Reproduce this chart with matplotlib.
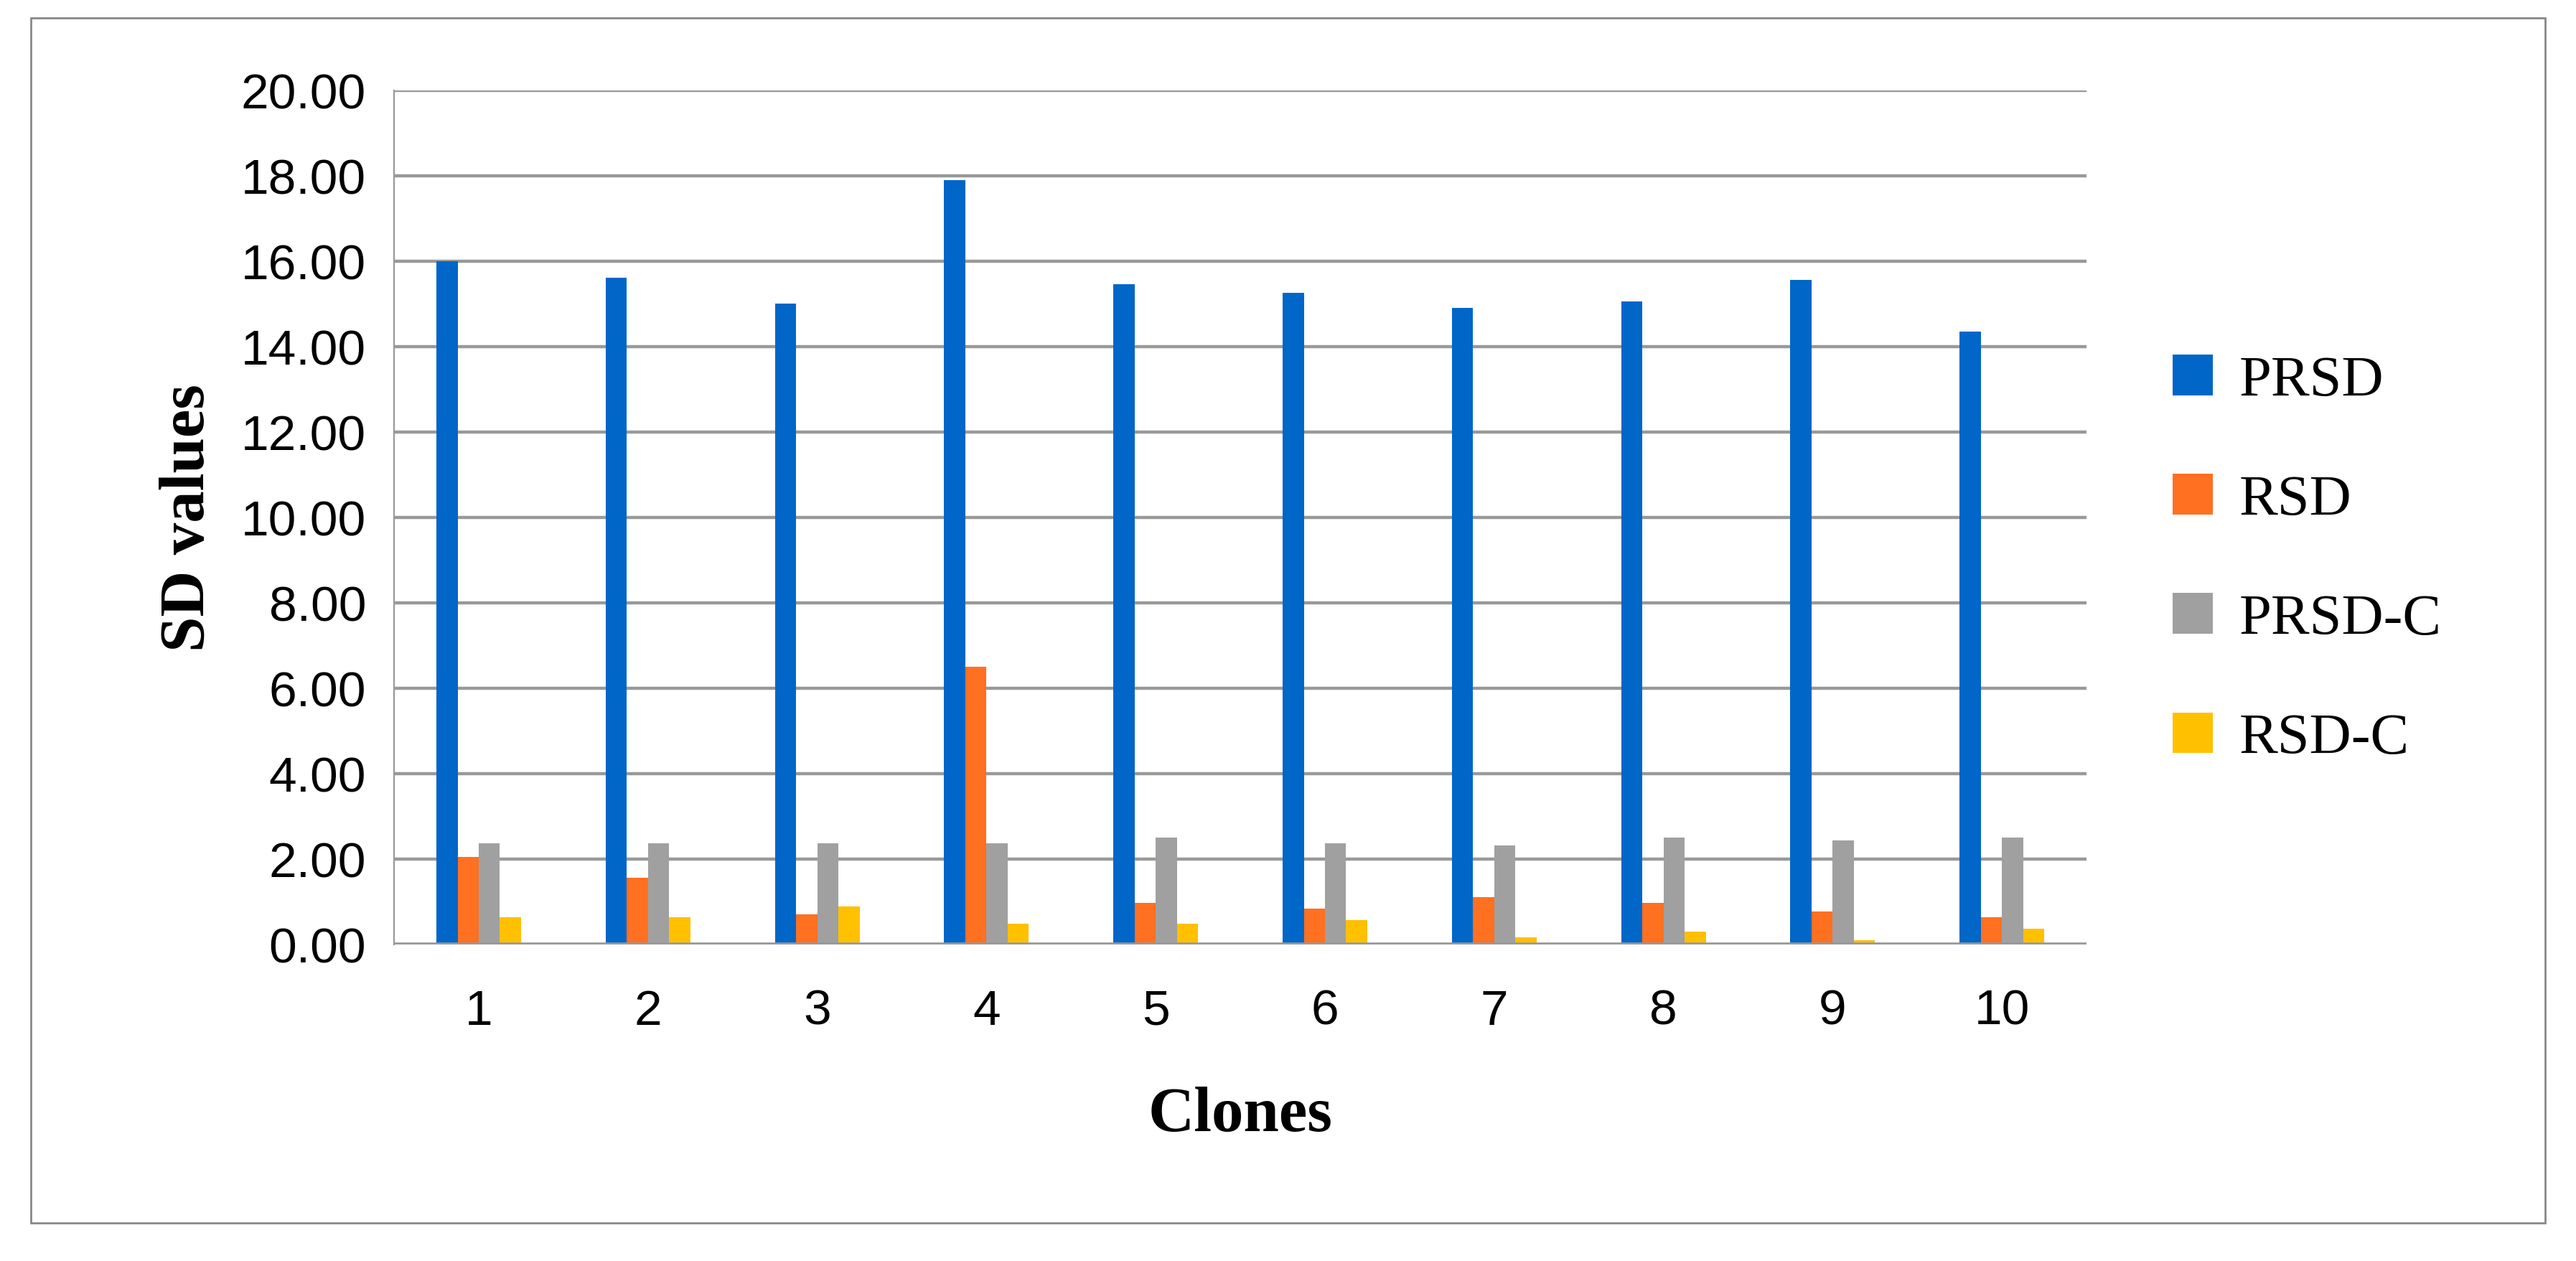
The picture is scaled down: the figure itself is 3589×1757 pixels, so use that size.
import matplotlib
matplotlib.use("Agg")
import matplotlib.pyplot as plt
import numpy as np
from matplotlib.patches import Rectangle

clones = ["1", "2", "3", "4", "5", "6", "7", "8", "9", "10"]
prsd = [16.00, 15.60, 15.00, 17.90, 15.45, 15.25, 14.90, 15.05, 15.55, 14.35]
rsd = [2.04, 1.56, 0.70, 6.50, 0.97, 0.83, 1.10, 0.97, 0.77, 0.63]
prsd_c = [2.37, 2.37, 2.37, 2.37, 2.50, 2.37, 2.31, 2.50, 2.44, 2.50]
rsd_c = [0.63, 0.63, 0.89, 0.49, 0.49, 0.56, 0.16, 0.30, 0.09, 0.36]

series = [("PRSD", prsd, "#0066C8"), ("RSD", rsd, "#FF7020"),
          ("PRSD-C", prsd_c, "#A0A0A0"), ("RSD-C", rsd_c, "#FFC000")]

fig = plt.figure(figsize=(17.945, 8.79), dpi=200)
fig.patches.append(Rectangle((0.012, 0.03), 0.976, 0.955, transform=fig.transFigure,
                             fill=False, edgecolor="#888888", lw=1.0))
ax = fig.add_axes([0.153, 0.251, 0.657, 0.677])

x = np.arange(len(clones))
w = 0.125
for i, (name, vals, col) in enumerate(series):
    ax.bar(x + (i - 1.5) * w, vals, w, color=col, label=name, zorder=3)

ax.set_ylim(0, 20)
ax.set_xlim(-0.5, len(clones) - 0.5)
ax.set_yticks(np.arange(0, 20.01, 2))
ax.set_yticklabels([f"{v:.2f}" for v in np.arange(0, 20.01, 2)])
ax.set_xticks(x)
ax.set_xticklabels(clones)
ax.grid(axis="y", color="#999999", lw=1.6, zorder=0)
for s in ["top", "right", "bottom"]:
    ax.spines[s].set_visible(False)
ax.spines["left"].set_color("#999999")
ax.axhline(0, color="#999999", lw=2, zorder=4)
ax.tick_params(axis="x", length=0, labelsize=25, pad=22)
ax.tick_params(axis="y", length=0, labelsize=25, pad=14)
for lab in ax.get_xticklabels() + ax.get_yticklabels():
    lab.set_family("Liberation Sans")

ax.set_ylabel("SD values", fontsize=32, fontweight="bold", family="Liberation Serif", labelpad=12)
ax.set_xlabel("Clones", fontsize=32, fontweight="bold", family="Liberation Serif", labelpad=26)

ax.legend(loc="center left", bbox_to_anchor=(1.02, 0.45), frameon=False,
          prop={"family": "Liberation Serif", "size": 29}, labelspacing=1.15,
          handlelength=0.7, handleheight=0.7, handletextpad=0.45)

fig.savefig("out.png", dpi=200)
